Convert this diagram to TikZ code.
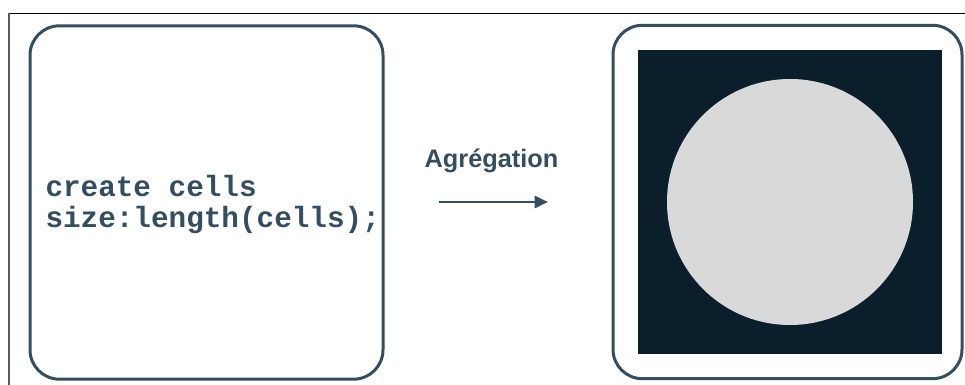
\documentclass[tikz,border=0pt]{standalone}
\usepackage{fontspec}
\setmonofont{Liberation Mono}
\setsansfont{Liberation Sans}
\usetikzlibrary{arrows.meta}
\definecolor{slate}{RGB}{52,78,97}
\definecolor{nightbg}{RGB}{11,30,43}
\definecolor{cellgray}{RGB}{217,217,217}
\tikzset{every picture/.style={line width=0.75pt}}
\tikzset{
  panel/.style={draw=slate, line width=2.25pt, rounded corners=22pt, minimum height=265pt},
  codetxt/.style={anchor=base west, inner sep=0pt, align=left, text=slate, font=\fontsize{22}{24}\selectfont\ttfamily\bfseries},
  steplabel/.style={anchor=base, inner sep=0pt, text=slate, font=\fontsize{19}{22}\selectfont\sffamily\bfseries}
}

\begin{document}
\begin{tikzpicture}[x=0.75pt,y=0.75pt,yscale=-1,xscale=1]
\useasboundingbox (0,0) rectangle (965,385);

%Straight Lines (frame)
\draw [color=black, line width=0.9pt] (9,13.5) -- (965,13.5) ;
\draw [color=black!65, line width=0.9pt] (9,13.5) -- (9,385) ;

%Shape: Rounded Rect (code panel)
\node (codebox) [panel, minimum width=264.75pt] at (206.5,202.5) {};
% Text Node
\node (code) [codetxt] at (45,228) {create cells\\size:length(cells);};

%Shape: Rounded Rect (result panel)
\node (resultbox) [panel, minimum width=261.75pt] at (787.5,202) {};
%Shape: Square
\node (grid) [fill=nightbg, inner sep=0pt, minimum size=228pt] at (790,202) {};
%Shape: Circle
\node (cell) [circle, fill=cellgray, inner sep=0pt, minimum size=184.5pt] at (grid.center) {};

% Text Node
\node (agg) [steplabel] at (491.5,167) {Agrégation};
%Straight Lines
\coordinate (aggfrom) at (439,202);
\coordinate (aggto) at (548,202);
\draw [color=slate, line width=2pt, -{Triangle[length=10pt,width=9pt]}] (aggfrom) -- (aggto) ;

\end{tikzpicture}
\end{document}
